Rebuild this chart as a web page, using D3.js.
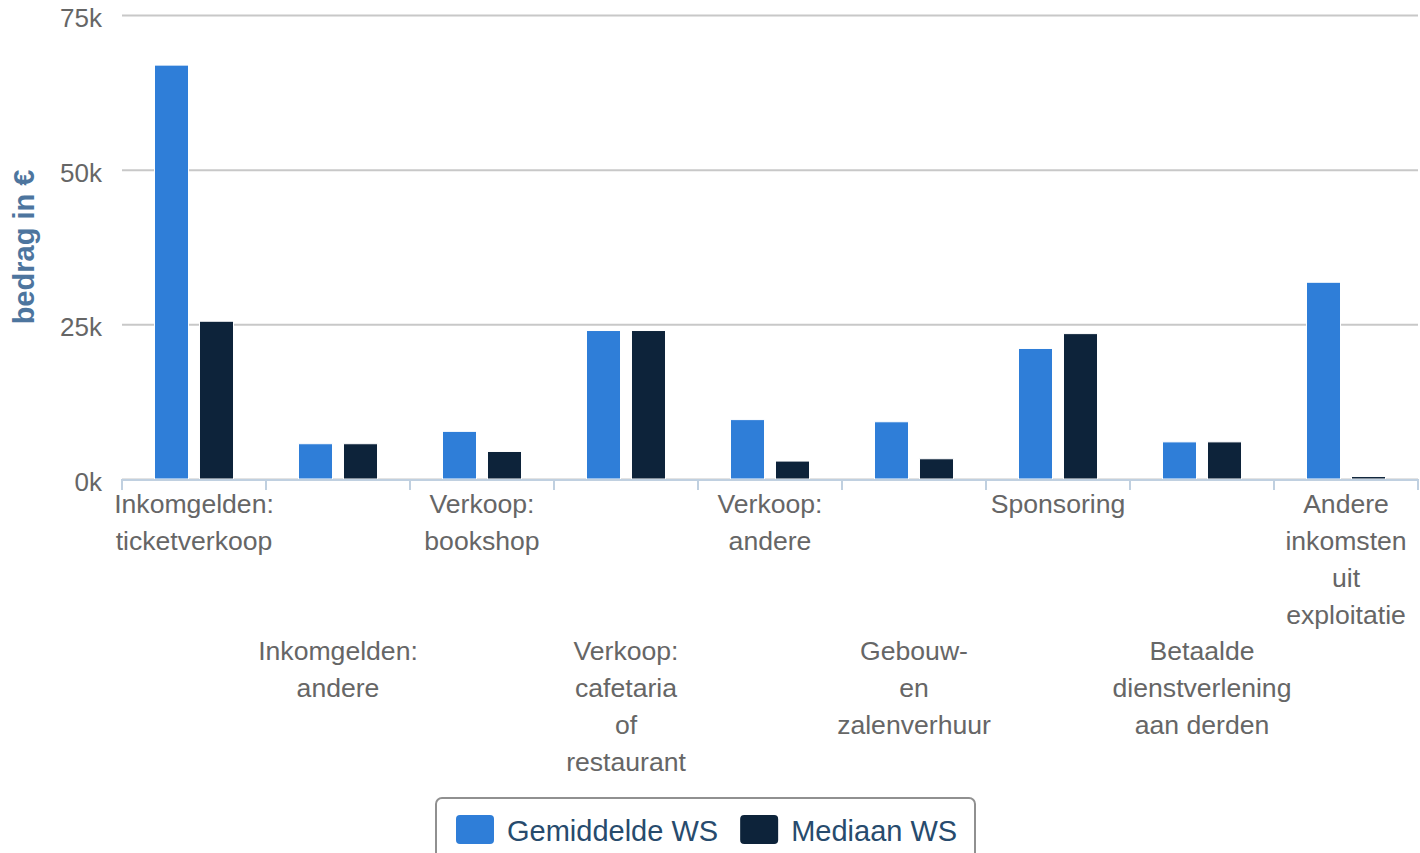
<!DOCTYPE html>
<html>
<head>
<meta charset="utf-8">
<script src="https://cdn.jsdelivr.net/npm/d3@7"></script>
<style>
  body { margin: 0; background: #fff; }
  svg { display: block; font-family: "Liberation Sans", Arial, Helvetica, sans-serif; }
</style>
</head>
<body>
<script>
// categories (each split into the lines they wrap to)
const categories = [
  "Inkomgelden: ticketverkoop",
  "Inkomgelden: andere",
  "Verkoop: bookshop",
  "Verkoop: cafetaria of restaurant",
  "Verkoop: andere",
  "Gebouw- en zalenverhuur",
  "Sponsoring",
  "Betaalde dienstverlening aan derden",
  "Andere inkomsten uit exploitatie"
]
const labelLines = [
  ["Inkomgelden:", "ticketverkoop"],
  ["Inkomgelden:", "andere"],
  ["Verkoop:", "bookshop"],
  ["Verkoop:", "cafetaria", "of", "restaurant"],
  ["Verkoop:", "andere"],
  ["Gebouw-", "en", "zalenverhuur"],
  ["Sponsoring"],
  ["Betaalde", "dienstverlening", "aan derden"],
  ["Andere", "inkomsten", "uit", "exploitatie"]
]
const seriesNames = ["Gemiddelde WS", "Mediaan WS"]
const seriesColors = ["#2f7ed8", "#0d233a"]
const gemiddelde = [66900, 5700, 7700, 24000, 9600, 9250, 21100, 6000, 31800]
const mediaan = [25500, 5700, 4450, 24000, 2900, 3270, 23500, 6000, 400]
const yTicks = [0, 25000, 50000, 75000]

const width = 1420
const height = 853
const margin = { top: 15, left: 122, right: 2, bottom: 374 }
const plotW = width - margin.left - margin.right
const plotH = height - margin.top - margin.bottom

const svg = d3.select("body")
  .append("svg")
  .attr("width", width)
  .attr("height", height)

const g = svg.append("g").attr("transform", `translate(${margin.left},${margin.top})`)

const x = d3.scaleBand().domain(categories).range([0, plotW]).paddingInner(0).paddingOuter(0)
// bars 34px wide with an 11px gap inside each 144px category
const xInner = d3.scaleBand().domain(seriesNames).range([0, x.bandwidth()]).paddingInner(0.244).paddingOuter(0.722)
const y = d3.scaleLinear().domain([0, 75000]).range([plotH, 0])

// y axis + gridlines
const yAxis = g.append("g")
  .call(d3.axisLeft(y).tickValues(yTicks).tickFormat((d) => d / 1000 + "k")
    .tickSizeInner(-plotW).tickSizeOuter(0).tickPadding(20))
yAxis.select(".domain").remove()
yAxis.selectAll("line").attr("stroke", "#c8c8c8").attr("stroke-width", 2)
yAxis.selectAll("text").attr("fill", "#666").attr("font-size", "26px").attr("dy", "0.44em")

// y axis title
svg.append("text")
  .attr("transform", `translate(34,${margin.top + plotH / 2}) rotate(-90)`)
  .attr("text-anchor", "middle")
  .attr("fill", "#4d759e")
  .attr("font-weight", "bold")
  .attr("font-size", "29px")
  .text("bedrag in €")

// bars
const rows = categories.map((c, i) => ({ cat: c, values: [gemiddelde[i], mediaan[i]] }))
const groups = g.selectAll(".group")
  .data(rows)
  .join("g")
  .attr("class", "group")
  .attr("transform", (d) => `translate(${x(d.cat)},0)`)

groups.selectAll("rect")
  .data((d) => d.values.map((v, j) => ({ name: seriesNames[j], value: v, color: seriesColors[j] })))
  .join("rect")
  .attr("x", (d) => xInner(d.name))
  .attr("y", (d) => y(d.value))
  .attr("width", xInner.bandwidth())
  .attr("height", (d) => plotH - y(d.value))
  .attr("fill", (d) => d.color)
  .attr("stroke", "#fff")
  .attr("stroke-width", 1)

// x axis line and tick marks between categories
const xAxis = g.append("g").attr("transform", `translate(0,${plotH})`)
xAxis.append("line")
  .attr("x1", 0).attr("x2", plotW)
  .attr("y1", 1).attr("y2", 1)
  .attr("stroke", "#c0d0e0").attr("stroke-width", 2)

const tickPos = categories.map((c) => x(c)).concat([plotW])
xAxis.selectAll(".xtick")
  .data(tickPos)
  .join("line")
  .attr("class", "xtick")
  .attr("x1", (d) => d).attr("x2", (d) => d)
  .attr("y1", 0).attr("y2", 11)
  .attr("stroke", "#c0d0e0").attr("stroke-width", 2)

// staggered category labels
const lineH = 37
xAxis.selectAll(".xlabel")
  .data(categories)
  .join("text")
  .attr("class", "xlabel")
  .attr("text-anchor", "middle")
  .attr("fill", "#666")
  .attr("font-size", "26.6px")
  .attr("transform", (d, i) => `translate(${x(d) + x.bandwidth() / 2},${i % 2 === 0 ? 34 : 181})`)
  .selectAll("tspan")
  .data((d, i) => labelLines[i])
  .join("tspan")
  .attr("x", 0)
  .attr("y", (d, i) => i * lineH)
  .text((d) => d)

// legend
const legend = svg.append("g").attr("transform", "translate(436,798)")
legend.append("rect")
  .attr("x", 0).attr("y", 0)
  .attr("width", 539).attr("height", 90)
  .attr("rx", 6)
  .attr("fill", "#fff")
  .attr("stroke", "#909090")
  .attr("stroke-width", 2)

let lx = 20
seriesNames.forEach((name, i) => {
  legend.append("rect")
    .attr("x", lx).attr("y", 17)
    .attr("width", 38).attr("height", 29)
    .attr("rx", 4)
    .attr("fill", seriesColors[i])
  const t = legend.append("text")
    .attr("x", lx + 51).attr("y", 43)
    .attr("fill", "#274b6d")
    .attr("font-size", "29px")
    .text(name)
  lx += 51 + t.node().getComputedTextLength() + 22
})
</script>
</body>
</html>
